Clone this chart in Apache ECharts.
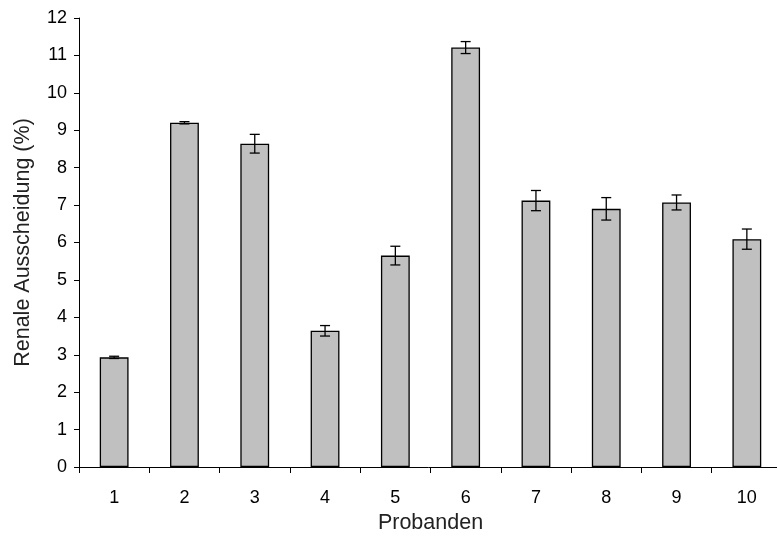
<!DOCTYPE html>
<html>
<head>
<meta charset="utf-8">
<script src="https://cdn.jsdelivr.net/npm/echarts@6/dist/echarts.min.js"></script>
<style>
html,body{margin:0;padding:0;background:#fff}
#chart{width:777px;height:543px}
</style>
</head>
<body>
<div id="chart"></div>
<script>
const probanden=["1","2","3","4","5","6","7","8","9","10"];
const ausscheidung=[2.93,9.2,8.64,3.64,5.65,11.21,7.12,6.9,7.07,6.09];
const fehler=[0.03,0.03,0.25,0.14,0.25,0.16,0.27,0.3,0.2,0.27];
const yTicks=[0,1,2,3,4,5,6,7,8,9,10,11,12];

const font="Liberation Sans, Arial, sans-serif";
const chart=echarts.init(document.getElementById("chart"));

chart.setOption({
  animation:false,
  grid:{left:79,top:18,right:-5,bottom:76,outerBoundsMode:"none",containLabel:false},
  xAxis:{
    type:"category",
    data:probanden,
    name:"Probanden",
    nameLocation:"middle",
    nameGap:44,
    nameTextStyle:{fontFamily:font,fontSize:21.5,color:"#222"},
    axisLine:{lineStyle:{color:"#000",width:1}},
    axisTick:{show:true,length:6,lineStyle:{color:"#000"}},
    axisLabel:{fontFamily:font,fontSize:18,color:"#000",margin:22}
  },
  yAxis:{
    type:"value",
    min:yTicks[0],
    max:yTicks[yTicks.length-1],
    interval:1,
    name:"Renale Ausscheidung (%)",
    nameLocation:"middle",
    nameGap:45,
    nameTextStyle:{fontFamily:font,fontSize:21.5,color:"#222"},
    axisLine:{show:true,lineStyle:{color:"#000",width:1}},
    axisTick:{show:true,length:5,lineStyle:{color:"#000"}},
    axisLabel:{fontFamily:font,fontSize:18,color:"#000",margin:12},
    splitLine:{show:false}
  },
  series:[
    {
      type:"bar",
      data:ausscheidung,
      barWidth:"41%",
      itemStyle:{color:"#c0c0c0",borderColor:"#000",borderWidth:1.3}
    },
    {
      type:"custom",
      data:ausscheidung.map((v,i)=>[i,v-fehler[i],v+fehler[i]]),
      z:5,
      renderItem:(params,api)=>{
        const lo=api.coord([api.value(0),api.value(1)]);
        const hi=api.coord([api.value(0),api.value(2)]);
        const w=5;
        const st={stroke:"#000",lineWidth:1.3};
        return {type:"group",children:[
          {type:"line",shape:{x1:hi[0],y1:hi[1],x2:lo[0],y2:lo[1]},style:st},
          {type:"line",shape:{x1:hi[0]-w,y1:hi[1],x2:hi[0]+w,y2:hi[1]},style:st},
          {type:"line",shape:{x1:lo[0]-w,y1:lo[1],x2:lo[0]+w,y2:lo[1]},style:st}
        ]};
      }
    }
  ]
});
</script>
</body>
</html>
